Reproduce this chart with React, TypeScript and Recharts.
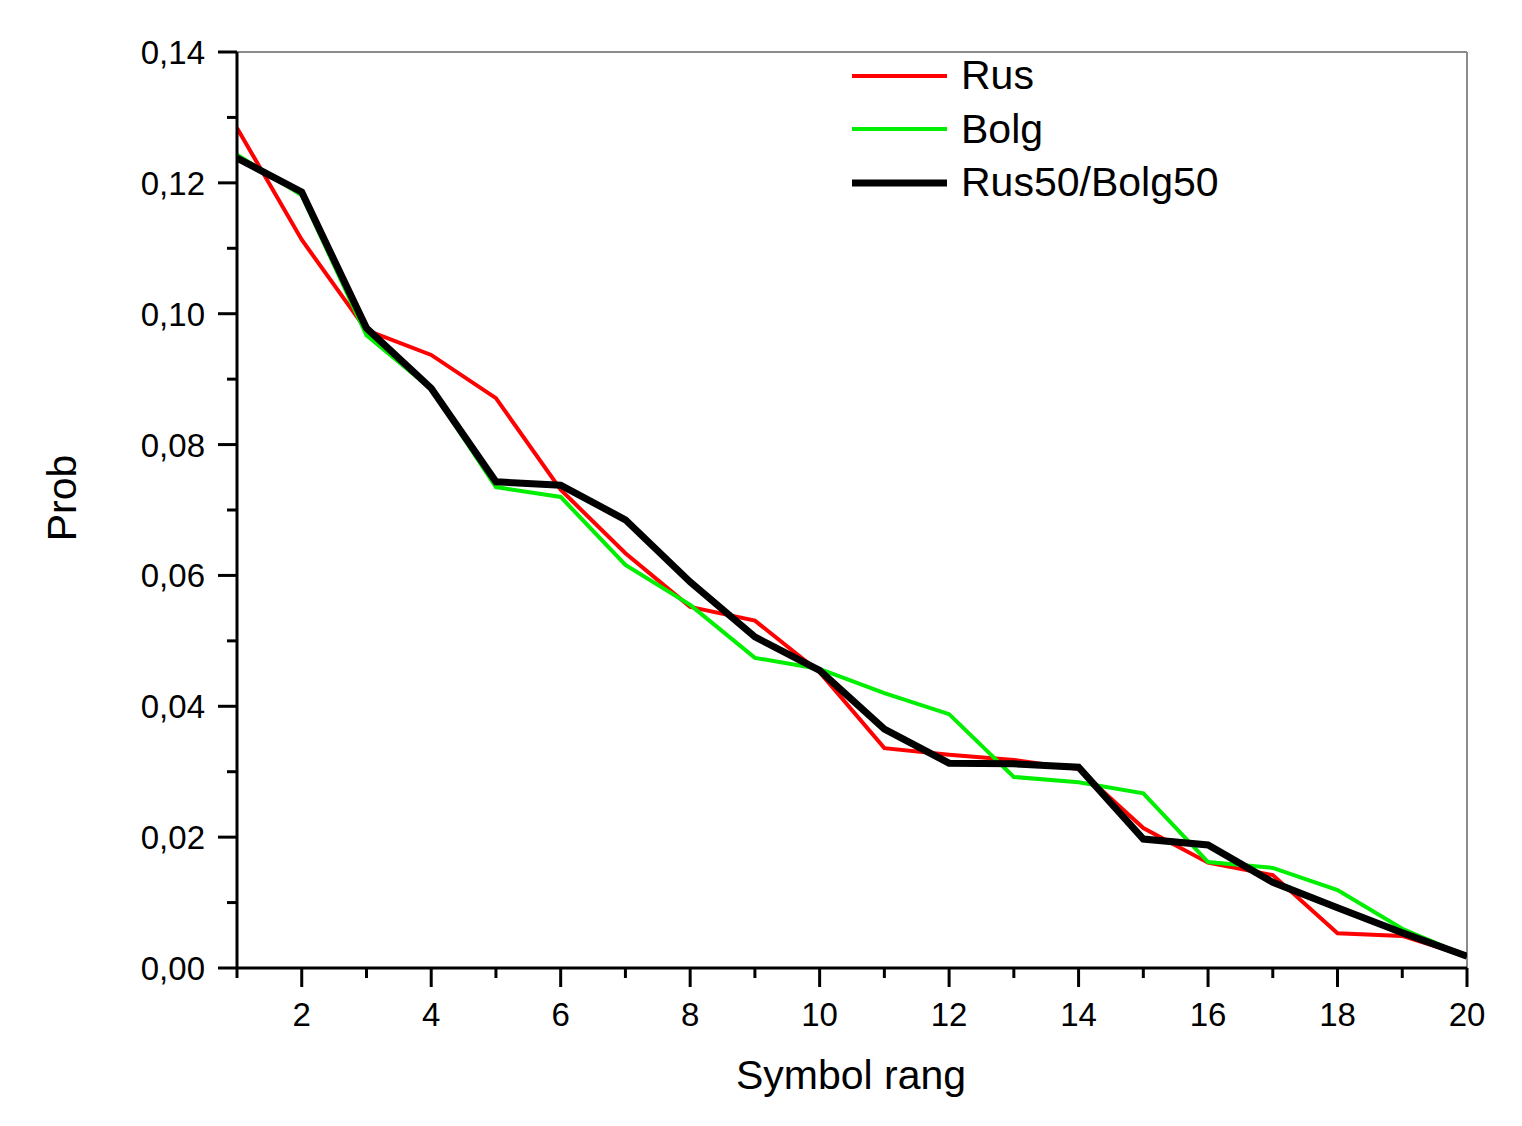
import { LineChart, Line, XAxis, YAxis, ReferenceLine, Legend, Label } from "recharts";

const FONT = "'Liberation Sans', Arial, Helvetica, sans-serif";

const ranks = [1, 2, 3, 4, 5, 6, 7, 8, 9, 10, 11, 12, 13, 14, 15, 16, 17, 18, 19, 20];
const rus = [0.1284, 0.1113, 0.0975, 0.0937, 0.0871, 0.0731, 0.0634, 0.0552, 0.0531, 0.0452, 0.0336, 0.0326, 0.0318, 0.0304, 0.0214, 0.0161, 0.0142, 0.0053, 0.0049, 0.0018];
const bolg = [0.1243, 0.1181, 0.0967, 0.0885, 0.0735, 0.072, 0.0616, 0.0555, 0.0474, 0.0457, 0.042, 0.0388, 0.0292, 0.0284, 0.0267, 0.0162, 0.0153, 0.0119, 0.006, 0.0018];
const mix = [0.1238, 0.1186, 0.0978, 0.0886, 0.0743, 0.0738, 0.0685, 0.059, 0.0506, 0.0455, 0.0365, 0.0313, 0.0312, 0.0307, 0.0197, 0.0188, 0.0131, 0.0092, 0.0054, 0.0018];

const xTicks = ranks;
const yTicks = [0, 0.01, 0.02, 0.03, 0.04, 0.05, 0.06, 0.07, 0.08, 0.09, 0.1, 0.11, 0.12, 0.13, 0.14];

const series = [
  { key: "rus", name: "Rus", color: "#ff0000", width: 4 },
  { key: "bolg", name: "Bolg", color: "#00ee00", width: 4 },
  { key: "mix", name: "Rus50/Bolg50", color: "#000000", width: 7 },
];

const data = ranks.map((r, i) => ({ rank: r, rus: rus[i], bolg: bolg[i], mix: mix[i] }));

function XTick(props: any) {
  const { x, y, payload } = props;
  const major = payload.value % 2 === 0;
  return (
    <g>
      <line x1={x} x2={x} y1={y} y2={y + (major ? 19 : 10)} stroke="#000" strokeWidth={3} />
      {major && (
        <text x={x} y={y + 58} textAnchor="middle" fontSize={33} fontFamily={FONT} fill="#000">
          {payload.value}
        </text>
      )}
    </g>
  );
}

function YTick(props: any) {
  const { x, y, payload } = props;
  const major = Math.round(payload.value * 100) % 2 === 0;
  return (
    <g>
      <line x1={x} x2={x - (major ? 19 : 10)} y1={y} y2={y} stroke="#000" strokeWidth={3} />
      {major && (
        <text x={x - 32} y={y + 12} textAnchor="end" fontSize={33} fontFamily={FONT} fill="#000">
          {payload.value.toFixed(2).replace(".", ",")}
        </text>
      )}
    </g>
  );
}

function LegendBox() {
  return (
    <div style={{ fontFamily: FONT }}>
      {series.map((s) => (
        <div key={s.key} style={{ display: "flex", alignItems: "center", height: 53.5 }}>
          <svg width={95} height={10} style={{ display: "block" }}>
            <line x1={0} x2={95} y1={5} y2={5} stroke={s.color} strokeWidth={s.width} />
          </svg>
          <span style={{ marginLeft: 14, fontSize: 41, lineHeight: 1, color: "#000" }}>{s.name}</span>
        </div>
      ))}
    </div>
  );
}

export default function App() {
  return (
    <LineChart
      width={1506}
      height={1110}
      data={data}
      margin={{ top: 44, right: 47, bottom: 50, left: 0 }}
      style={{ fontFamily: FONT, background: "#fff" }}
    >
      <XAxis
        dataKey="rank"
        type="number"
        domain={[1, 20]}
        ticks={xTicks}
        interval={0}
        allowDataOverflow
        height={100}
        tickSize={0}
        tickMargin={0}
        tickLine={false}
        axisLine={{ stroke: "#000", strokeWidth: 3 }}
        tick={(p: any) => <XTick {...p} />}
      >
        <Label
          content={() => (
            <text x={843} y={1081} textAnchor="middle" fontSize={41} fontFamily={FONT} fill="#000">
              Symbol rang
            </text>
          )}
        />
      </XAxis>
      <YAxis
        type="number"
        domain={[0, 0.14]}
        ticks={yTicks}
        interval={0}
        allowDataOverflow
        width={229}
        tickSize={0}
        tickMargin={0}
        tickLine={false}
        axisLine={{ stroke: "#000", strokeWidth: 3 }}
        tick={(p: any) => <YTick {...p} />}
      >
        <Label
          content={() => (
            <text
              x={54}
              y={490}
              transform="rotate(-90 54 490)"
              textAnchor="middle"
              dominantBaseline="central"
              fontSize={41}
              fontFamily={FONT}
              fill="#000"
            >
              Prob
            </text>
          )}
        />
      </YAxis>
      <ReferenceLine y={0.14} stroke="#8c8c8c" strokeWidth={2} />
      <ReferenceLine x={20} stroke="#8c8c8c" strokeWidth={2} />
      <Legend
        layout="vertical"
        align="center"
        verticalAlign="middle"
        content={() => <LegendBox />}
        wrapperStyle={{ left: 844, top: 41, width: 440 }}
      />
      {series.map((s) => (
        <Line
          key={s.key}
          type="linear"
          dataKey={s.key}
          name={s.name}
          stroke={s.color}
          strokeWidth={s.width}
          dot={false}
          activeDot={false}
          isAnimationActive={false}
        />
      ))}
    </LineChart>
  );
}
